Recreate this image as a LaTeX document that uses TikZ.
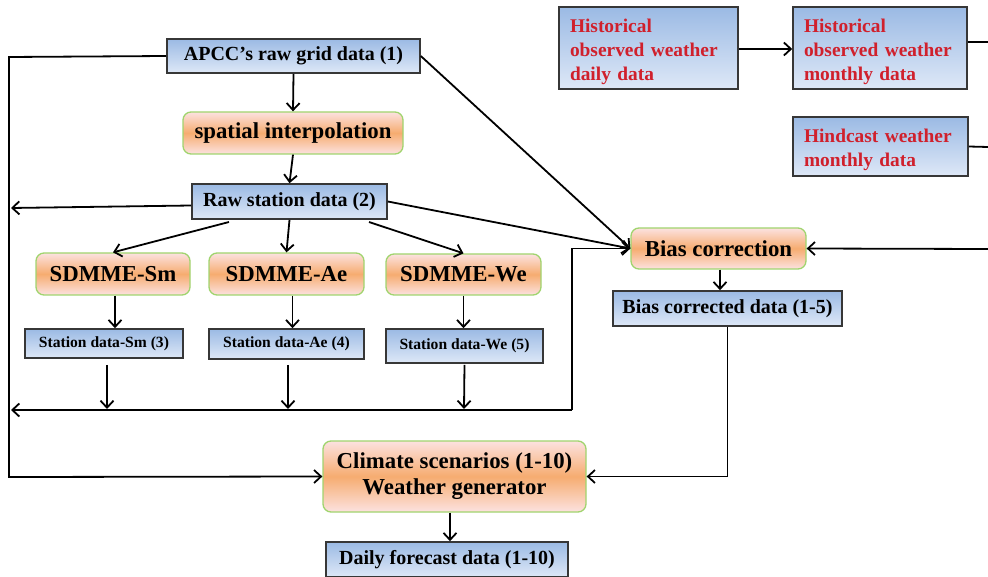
\documentclass[tikz,border=0pt]{standalone}
\usepackage{fontspec}
\setmainfont{Liberation Serif}
\usetikzlibrary{arrows.meta}
\definecolor{bTop}{RGB}{155,186,228}
\definecolor{bBot}{RGB}{222,232,247}
\definecolor{oEnd}{RGB}{252,226,224}
\definecolor{oMid}{RGB}{246,172,112}
\definecolor{gEdge}{RGB}{160,212,110}
\definecolor{bEdge}{RGB}{55,55,55}
\definecolor{redT}{RGB}{208,32,44}
\begin{document}
\begin{tikzpicture}[x=1pt,y=-1pt,
 bluebox/.style={draw=bEdge,line width=1.6pt,top color=bTop,bottom color=bBot,inner sep=0pt,font=\bfseries\fontsize{20}{23}\selectfont},
 stbox/.style={bluebox,font=\bfseries\fontsize{15.6}{18}\selectfont},
 orbox/.style={draw=gEdge,line width=1.3pt,rounded corners=8pt,top color=oEnd,bottom color=oEnd,middle color=oMid,inner sep=0pt,align=center,font=\bfseries\fontsize{22.8}{26}\selectfont},
 redbox/.style={bluebox,text=redT,align=left,font=\bfseries\fontsize{19.4}{24}\selectfont,inner xsep=11pt},
 link/.style={line width=1.8pt,-{Straight Barb[length=7pt,width=13pt,line width=1.8pt]}},
 plain/.style={line width=1.8pt}]
\useasboundingbox (0,0) rectangle (988,577);

\node[bluebox,minimum width=253,minimum height=34] (apcc) at (293.5,56) {APCC’s raw grid data (1)};
\node[orbox,minimum width=220,minimum height=42] (spat) at (293,133) {spatial interpolation};
\node[bluebox,minimum width=195,minimum height=35] (raw) at (289.5,201.5) {Raw station data (2)};
\node[orbox,minimum width=154,minimum height=42] (sm) at (113,274) {SDMME-Sm};
\node[orbox,minimum width=155,minimum height=42] (ae) at (286.5,274) {SDMME-Ae};
\node[orbox,minimum width=155,minimum height=41] (we) at (463.5,274.5) {SDMME-We};
\node[stbox,minimum width=158,minimum height=29] (stsm) at (104,343.5) {Station data-Sm (3)};
\node[stbox,minimum width=155,minimum height=30] (stae) at (286.5,344) {Station data-Ae (4)};
\node[stbox,minimum width=157,minimum height=34] (stwe) at (464.5,346) {Station data-We (5)};
\node[orbox,minimum width=175,minimum height=41] (bias) at (718.5,248.5) {Bias correction};
\node[bluebox,minimum width=229,minimum height=35] (bcd) at (727.5,308.5) {Bias corrected data (1-5)};
\node[orbox,minimum width=263,minimum height=71] (clim) at (454.5,476.5) {Climate scenarios (1-10)\\Weather generator};
\node[bluebox,minimum width=242,minimum height=35] (daily) at (447,559.5) {Daily forecast data (1-10)};
\node[redbox,text width=157,minimum height=82] (hd) at (648.5,48) {\rule{0pt}{21.5pt}Historical\\observed weather\\daily data};
\node[redbox,text width=152,minimum height=82] (hm) at (880,48) {\rule{0pt}{21.5pt}Historical\\observed weather\\monthly data};
\node[redbox,text width=153,minimum height=59] (hc) at (880.5,146.5) {\rule{0pt}{20.5pt}Hindcast weather\\monthly data};

\coordinate (Lt) at (9,57);
\coordinate (Lb) at (9,477);
\coordinate (rawL) at (11,208);
\coordinate (r1) at (229,222);
\coordinate (r3) at (369,222);
\coordinate (busR) at (572,410);
\coordinate (busL) at (11,410);
\coordinate (smB) at (107,409);
\coordinate (aeB) at (288,409);
\coordinate (weB) at (464,409);
\coordinate (rIn) at (988,249);
\coordinate (hmOut) at (988,42);
\coordinate (hcOut) at (988,147);

\draw[link] (apcc.west) -- (Lt) -- (Lb) -- (clim.west);
\draw[link] (apcc.south) -- (spat.north);
\draw[link] (spat.south) -- (raw.north);
\draw[link] ([yshift=-4]raw.west) -- (rawL);
\draw[link] (apcc.east) -- (bias.west);
\draw[link] (raw.east) -- (bias.west);
\draw[link] (r1) -- (sm.north);
\draw[link] (raw.south) -- (ae.north);
\draw[link] (r3) -- (we.north);
\draw[link] ([xshift=2]sm.south) -- ([xshift=2]sm.south |- stsm.north);
\draw[link] ([xshift=6]ae.south) -- ([xshift=6]ae.south |- stae.north);
\draw[link] (we.south) -- (we.south |- stwe.north);
\draw[link] ([xshift=3,yshift=-6]stsm.south) -- (smB);
\draw[link] ([xshift=1.5,yshift=-5]stae.south) -- (aeB);
\draw[link] ([yshift=-1]stwe.south) -- (weB);
\draw[link] (busR) -- (busL);
\draw[link] (busR) |- (bias.west);
\draw[link] (rIn) -- (bias.east);
\draw[link] ([xshift=1.5]bias.south) -- ([xshift=1.5]bias.south |- bcd.north);
\draw[link] (bcd.south) |- (clim.east);
\draw[link] (clim.south -| 450,0) -- (daily.north -| 450,0);
\draw[link] ([yshift=-1]hd.east) -- ([yshift=-1]hm.west);
\draw[plain] ([yshift=6]hm.east) -- (hmOut);
\draw[plain] (hc.east) -- (hcOut);
\end{tikzpicture}
\end{document}
